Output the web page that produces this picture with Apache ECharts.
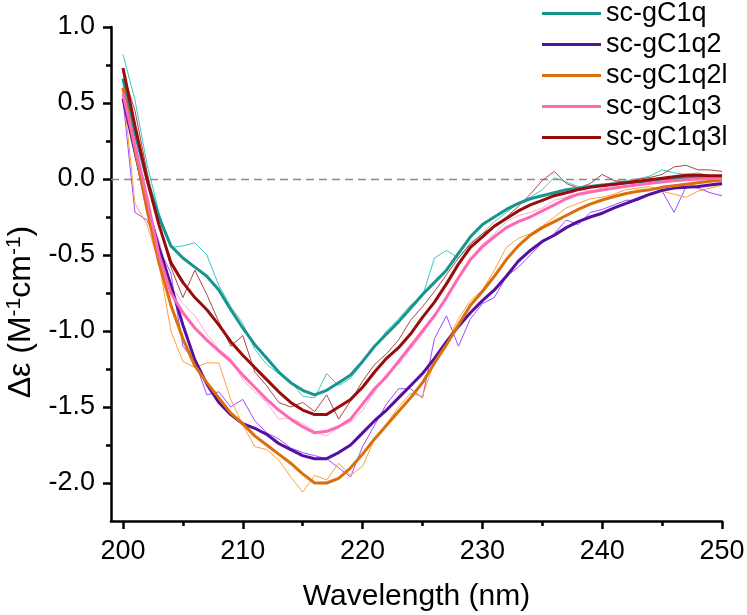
<!DOCTYPE html>
<html>
<head>
<meta charset="utf-8">
<script src="https://cdn.jsdelivr.net/npm/echarts@6/dist/echarts.min.js"></script>
<style>
html,body{margin:0;padding:0;background:#fff;}
#chart{width:747px;height:615px;}
</style>
</head>
<body>
<div id="chart"></div>
<script>
// Wavelength (nm)
const wavelengths = [200,201,202,203,204,205,206,207,208,209,210,211,212,213,214,215,216,217,218,219,220,221,222,223,224,225,226,227,228,229,230,231,232,233,234,235,236,237,238,239,240,241,242,243,244,245,246,247,248,249,250];

const seriesNames = ['sc-gC1q','sc-gC1q2','sc-gC1q2l','sc-gC1q3','sc-gC1q3l'];

// smoothed curves
const smoothC1q   = [0.66,0.30,0.00,-0.25,-0.44,-0.52,-0.58,-0.64,-0.73,-0.86,-0.98,-1.09,-1.18,-1.27,-1.34,-1.39,-1.42,-1.39,-1.34,-1.29,-1.20,-1.10,-1.02,-0.94,-0.85,-0.76,-0.68,-0.60,-0.49,-0.38,-0.30,-0.25,-0.20,-0.16,-0.13,-0.11,-0.09,-0.07,-0.06,-0.05,-0.04,-0.035,-0.025,-0.02,-0.01,0.0,0.005,0.01,0.012,0.015,0.015];
const smoothC1q2  = [0.53,0.18,-0.17,-0.45,-0.70,-0.96,-1.19,-1.35,-1.47,-1.55,-1.61,-1.64,-1.68,-1.74,-1.78,-1.82,-1.84,-1.84,-1.80,-1.75,-1.67,-1.59,-1.52,-1.44,-1.36,-1.28,-1.18,-1.07,-0.97,-0.88,-0.80,-0.73,-0.64,-0.54,-0.47,-0.41,-0.37,-0.32,-0.28,-0.25,-0.225,-0.19,-0.16,-0.13,-0.10,-0.075,-0.06,-0.055,-0.05,-0.04,-0.03];
const smoothC1q2l = [0.60,0.20,-0.20,-0.55,-0.83,-1.05,-1.23,-1.34,-1.44,-1.54,-1.61,-1.69,-1.75,-1.81,-1.87,-1.94,-2.00,-2.00,-1.97,-1.90,-1.81,-1.71,-1.62,-1.53,-1.44,-1.34,-1.21,-1.09,-0.96,-0.83,-0.74,-0.64,-0.53,-0.44,-0.37,-0.32,-0.28,-0.24,-0.20,-0.165,-0.138,-0.115,-0.095,-0.08,-0.07,-0.055,-0.045,-0.035,-0.025,-0.015,-0.007];
const smoothC1q3  = [0.56,0.22,-0.12,-0.50,-0.75,-0.88,-0.98,-1.06,-1.13,-1.20,-1.29,-1.37,-1.45,-1.52,-1.58,-1.63,-1.67,-1.66,-1.63,-1.58,-1.48,-1.38,-1.30,-1.20,-1.10,-1.00,-0.90,-0.78,-0.65,-0.53,-0.445,-0.38,-0.32,-0.28,-0.25,-0.21,-0.17,-0.13,-0.10,-0.085,-0.072,-0.06,-0.048,-0.038,-0.028,-0.02,-0.012,-0.005,0.0,0.003,0.004];
const smoothC1q3l = [0.73,0.35,0.00,-0.30,-0.55,-0.68,-0.78,-0.86,-0.96,-1.07,-1.16,-1.24,-1.32,-1.40,-1.47,-1.52,-1.55,-1.55,-1.50,-1.45,-1.37,-1.27,-1.18,-1.11,-1.02,-0.91,-0.81,-0.69,-0.56,-0.45,-0.38,-0.31,-0.26,-0.21,-0.17,-0.14,-0.11,-0.09,-0.07,-0.055,-0.045,-0.035,-0.025,-0.015,-0.005,0.005,0.015,0.025,0.025,0.022,0.022];

// raw (noisy) curves
const rawC1q   = [0.82,0.52,0.10,-0.22,-0.45,-0.44,-0.42,-0.50,-0.70,-0.84,-0.95,-1.12,-1.22,-1.28,-1.33,-1.43,-1.44,-1.28,-1.36,-1.31,-1.21,-1.10,-1.00,-0.92,-0.83,-0.77,-0.52,-0.47,-0.52,-0.42,-0.36,-0.28,-0.22,-0.16,-0.12,-0.07,0.01,-0.02,-0.05,-0.05,-0.04,-0.02,-0.01,0.0,0.02,0.06,0.04,0.03,0.04,0.02,0.02];
const rawC1q2  = [0.52,-0.22,-0.27,-0.45,-0.62,-1.10,-1.20,-1.42,-1.40,-1.50,-1.45,-1.59,-1.67,-1.71,-1.77,-1.80,-1.82,-1.84,-1.90,-1.96,-1.76,-1.62,-1.48,-1.38,-1.38,-1.44,-1.05,-0.90,-1.10,-0.92,-0.82,-0.78,-0.64,-0.58,-0.50,-0.42,-0.36,-0.27,-0.30,-0.22,-0.20,-0.17,-0.14,-0.14,-0.10,-0.08,-0.22,-0.05,-0.06,-0.09,-0.11];
const rawC1q2l = [0.60,-0.16,-0.30,-0.55,-1.00,-1.20,-1.24,-1.21,-1.21,-1.45,-1.62,-1.76,-1.78,-1.85,-1.96,-2.06,-1.95,-1.98,-1.87,-1.95,-1.89,-1.71,-1.61,-1.50,-1.41,-1.43,-1.20,-1.08,-0.92,-0.80,-0.73,-0.60,-0.45,-0.39,-0.36,-0.31,-0.25,-0.19,-0.16,-0.13,-0.12,-0.10,-0.07,-0.06,-0.05,-0.08,-0.10,-0.12,-0.08,-0.06,-0.04];
const rawC1q3  = [0.55,0.18,-0.22,-0.40,-0.70,-0.82,-0.90,-1.02,-1.12,-1.18,-1.32,-1.40,-1.47,-1.58,-1.57,-1.61,-1.66,-1.69,-1.63,-1.60,-1.52,-1.40,-1.28,-1.22,-1.12,-1.02,-0.90,-0.79,-0.66,-0.53,-0.43,-0.36,-0.28,-0.24,-0.22,-0.19,-0.14,-0.12,-0.07,-0.08,-0.06,-0.05,-0.02,-0.04,-0.01,0.0,0.02,0.01,0.03,0.02,0.01];
const rawC1q3l = [0.70,0.45,0.05,-0.30,-0.58,-0.78,-0.60,-0.76,-0.94,-1.10,-1.03,-1.27,-1.36,-1.47,-1.50,-1.47,-1.53,-1.42,-1.58,-1.46,-1.33,-1.22,-1.15,-1.06,-0.93,-0.84,-0.74,-0.63,-0.52,-0.43,-0.36,-0.31,-0.25,-0.18,-0.10,-0.01,0.05,-0.03,-0.06,-0.03,0.03,-0.01,-0.02,0.0,0.01,0.03,0.08,0.09,0.06,0.06,0.05];

// tick values
const xLabelTicks = [200,210,220,230,240,250];
const xMinorTicks = [205,215,225,235,245];
const yLabelTicks = [-2.0,-1.5,-1.0,-0.5,0.0,0.5,1.0];
const yMinorTicks = [-1.75,-1.25,-0.75,-0.25,0.25,0.75];

const thickColors = ['#17968f','#54109f','#d9700b','#ff69b4','#990c0c'];
const thinColors  = ['#40c8c2','#9d4dff','#ffa040','#ffaad4','#a84848'];

const smoothAll = [smoothC1q, smoothC1q2, smoothC1q2l, smoothC1q3, smoothC1q3l];
const rawAll = [rawC1q, rawC1q2, rawC1q2l, rawC1q3, rawC1q3l];

const FONT = 'Liberation Sans, Arial, Helvetica, sans-serif';
const pair = arr => wavelengths.map((w,i) => [w, arr[i]]);

const series = [];
rawAll.forEach((arr, i) => {
  series.push({
    name: seriesNames[i] + ' raw',
    type: 'line', data: pair(arr), showSymbol: false, symbol: 'none',
    lineStyle: {color: thinColors[i], width: 1}, itemStyle: {color: thinColors[i]},
    silent: true, z: 2
  });
});
smoothAll.forEach((arr, i) => {
  const s = {
    name: seriesNames[i],
    type: 'line', data: pair(arr), showSymbol: false, symbol: 'none',
    lineStyle: {color: thickColors[i], width: 3}, itemStyle: {color: thickColors[i]},
    silent: true, z: 3
  };
  if (i === 0) {
    s.markLine = {
      silent: true, symbol: ['none','none'], label: {show: false},
      lineStyle: {color: '#8a8a8a', type: [8,5], width: 1.3},
      data: [{yAxis: 0}], z: 1
    };
  }
  series.push(s);
});

const chart = echarts.init(document.getElementById('chart'), null, {renderer: 'canvas'});
chart.setOption({
  animation: false,
  backgroundColor: '#fff',
  textStyle: {fontFamily: FONT, color: '#000'},
  grid: {left: 111, right: 25, top: 27, bottom: 94, containLabel: false, outerBoundsMode: 'none'},
  legend: {
    data: seriesNames,
    orient: 'vertical', left: 542, top: 0, padding: 0,
    itemWidth: 59, itemHeight: 3, itemGap: 4, icon: 'rect',
    textStyle: {fontFamily: FONT, fontSize: 27, color: '#000', lineHeight: 27}
  },
  xAxis: [{
    type: 'value', min: 199, max: 250,
    name: 'Wavelength (nm)', nameLocation: 'middle', nameGap: 61,
    nameTextStyle: {fontFamily: FONT, fontSize: 30, color: '#000'},
    axisLine: {onZero: false, lineStyle: {color: '#000', width: 2.5}},
    axisTick: {show: true, length: 8, inside: false, customValues: xLabelTicks, lineStyle: {color: '#000', width: 2.5}},
    axisLabel: {customValues: xLabelTicks, fontFamily: FONT, fontSize: 27, color: '#000', margin: 17},
    splitLine: {show: false}
  }, {
    type: 'value', min: 199, max: 250, position: 'bottom',
    axisLine: {show: false, onZero: false},
    axisTick: {show: true, length: 5, customValues: xMinorTicks, lineStyle: {color: '#000', width: 2.5}},
    axisLabel: {show: false}, splitLine: {show: false}
  }],
  yAxis: [{
    type: 'value', min: -2.25, max: 1.0,
    name: '{a|Δε (M}{s|-1}{a|cm}{s|-1}{a|)}',
    nameLocation: 'middle', nameGap: 70, nameRotate: 90,
    nameTextStyle: {
      padding: [0, 76, 0, 0],
      rich: {
        a: {fontFamily: FONT, fontSize: 32, color: '#000', lineHeight: 34, verticalAlign: 'bottom'},
        s: {fontFamily: FONT, fontSize: 21, color: '#000', lineHeight: 21, verticalAlign: 'top'}
      }
    },
    axisLine: {show: true, onZero: false, lineStyle: {color: '#000', width: 2.5}},
    axisTick: {show: true, length: 8, customValues: yLabelTicks, lineStyle: {color: '#000', width: 2.5}},
    axisLabel: {customValues: yLabelTicks, fontFamily: FONT, fontSize: 27, color: '#000', margin: 16,
      formatter: v => Number(v).toFixed(1)},
    splitLine: {show: false}
  }, {
    type: 'value', min: -2.25, max: 1.0, position: 'left',
    axisLine: {show: false, onZero: false},
    axisTick: {show: true, length: 5, customValues: yMinorTicks, lineStyle: {color: '#000', width: 2.5}},
    axisLabel: {show: false}, splitLine: {show: false}
  }],
  series: series
});
</script>
</body>
</html>
